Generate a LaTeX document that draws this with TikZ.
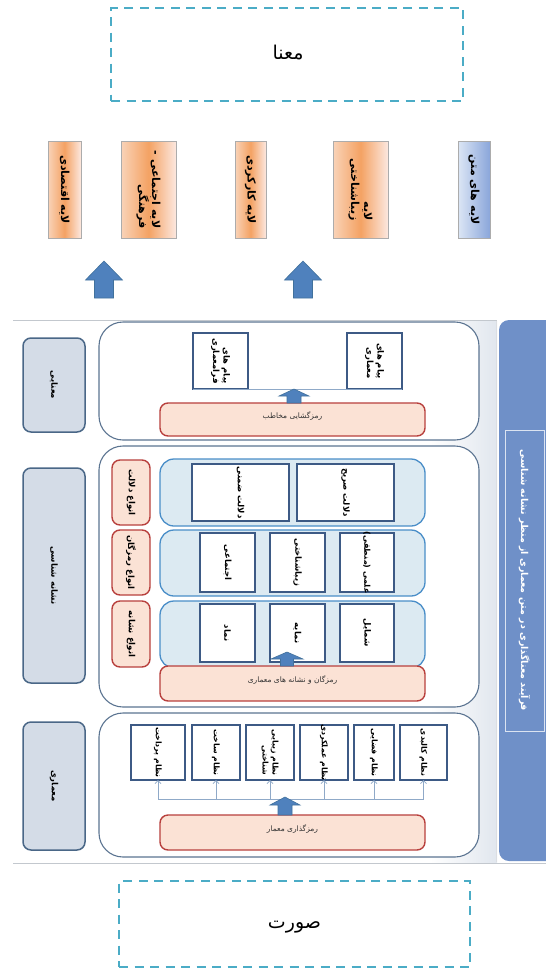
\documentclass[tikz,border=0pt]{standalone}
\usepackage{fontspec}
\newfontfamily\fa[Script=Arabic]{DejaVu Sans}
\TeXXeTstate=1
\usetikzlibrary{arrows.meta,fit}
\newcommand\R[1]{\beginR #1\endR}
\definecolor{dashc}{HTML}{4BACC6}
\definecolor{orL}{HTML}{F9D3B8}
\definecolor{orM}{HTML}{F4A263}
\definecolor{orR}{HTML}{FCE8E0}
\definecolor{buL}{HTML}{DCE6F5}
\definecolor{buR}{HTML}{8AA6DA}
\definecolor{blkf}{HTML}{4F81BD}
\definecolor{blkd}{HTML}{41719C}
\definecolor{secc}{HTML}{5B7491}
\definecolor{labd}{HTML}{4A6787}
\definecolor{labf}{HTML}{D4DCE7}
\definecolor{rowd}{HTML}{4A8EC8}
\definecolor{rowf}{HTML}{DCEAF2}
\definecolor{wbd}{HTML}{3D5A85}
\definecolor{pd}{HTML}{B8403D}
\definecolor{pf}{HTML}{FBE2D5}
\definecolor{thc}{HTML}{8FA9C8}
\definecolor{barf}{HTML}{6F90C8}
\definecolor{panl}{HTML}{C3C8CE}
\newcommand\blkup[6]{\path[blk] (#1-#5,#3) -- (#1-#5,#2+#6) -- (#1-#4,#2+#6) -- (#1,#2) -- (#1+#4,#2+#6) -- (#1+#5,#2+#6) -- (#1+#5,#3) -- cycle;}
\tikzset{
  fitbox/.style={inner sep=0pt, outer sep=0pt},
  dashbox/.style={fitbox, draw=dashc, line width=2.4pt, dash pattern=on 9pt off 6.5pt},
  bigtxt/.style={font=\fa\fontsize{19}{22}\selectfont, inner sep=0pt},
  layer/.style={fitbox, draw=gray!65, line width=0.8pt},
  orangefill/.style={left color=orL, right color=orR, middle color=orM},
  bluefill/.style={left color=buL, right color=buR},
  rottxt/.style={rotate=-90, align=right, inner sep=0pt, text=black},
  blk/.style={fill=blkf, draw=blkd, line width=0.6pt},
  sect/.style={fitbox, draw=secc, line width=1.1pt, rounded corners=24pt, fill=white},
  lab/.style={fitbox, draw=labd, fill=labf, line width=1.5pt, rounded corners=8pt},
  rowbox/.style={fitbox, draw=rowd, fill=rowf, line width=1.3pt, rounded corners=14pt},
  wbox/.style={fitbox, draw=wbd, fill=white, line width=1.2pt},
  peach/.style={fitbox, draw=pd, fill=pf, line width=1.4pt, rounded corners=8pt, font=\fa\fontsize{7.5}{9}\selectfont, text=black!80},
  thinarr/.style={draw=thc, line width=0.8pt, -{Straight Barb[length=3pt,width=6pt]}},
  thinline/.style={draw=thc, line width=0.8pt},
  lt/.style={font=\fa\bfseries\fontsize{11}{13}\selectfont},
  st/.style={font=\fa\bfseries\fontsize{8.5}{10.5}\selectfont},
  nt/.style={font=\fa\bfseries\fontsize{7.8}{10}\selectfont},
  mt/.style={font=\fa\bfseries\fontsize{8.5}{10.5}\selectfont},
}
\begin{document}
\begin{tikzpicture}[x=1pt,y=-1pt]
\useasboundingbox (0,0) rectangle (546,970);
% top and bottom dashed boxes
\node[dashbox, fit={(111,8) (463,101)}] (mana) {};
\node[bigtxt] (manat) at (288,53) {\R{معنا}};
\node[dashbox, fit={(119,881) (470,967)}] (surat) {};
\node[bigtxt] (suratt) at (294.5,927) {\R{صورت}};
% layer boxes
\node[layer, orangefill, fit={(48,141) (81,238)}] (L1) {};
\node[rottxt, lt] (L1t) at (L1) {\R{لایه اقتصادی}};
\node[layer, orangefill, fit={(121,141) (176,238)}] (L2) {};
\node[rottxt, lt] (L2t) at (L2) {\R{لایه اجتماعی -}\\\R{فرهنگی}};
\node[layer, orangefill, fit={(235,141) (266,238)}] (L3) {};
\node[rottxt, lt] (L3t) at (L3) {\R{لایه کارکردی}};
\node[layer, orangefill, fit={(333,141) (388,238)}] (L4) {};
\node[rottxt, lt] (L4t) at (L4) {\R{لایه}\\\R{زیباشناختی}};
\node[layer, bluefill, fit={(458,141) (490,238)}] (L5) {};
\node[rottxt, lt] (L5t) at (L5) {\R{لایه های متن}};
\blkup{104}{261}{298}{18.5}{9.5}{19}
\blkup{303}{261}{298}{18.5}{9.5}{19}
% panel
\fill[left color=white, right color=labf!70] (430,321) rectangle (497,862);
\draw[panl, line width=1pt] (13,320.5) -- (497,320.5);
\draw[panl!60, line width=0.8pt] (496.5,321) -- (496.5,862);
\draw[panl, line width=1pt] (13,863) -- (546,863);
% right bar
\node[fitbox, fill=barf, rounded corners=10pt, fit={(499,320) (560,861)}] (bar) {};
\node[fitbox, draw=white!75!barf, line width=1pt, fit={(505,430) (544,731)}] (barin) {};
\node[rottxt, font=\fa\bfseries\fontsize{9.5}{11}\selectfont, text=white] (bart) at (barin) {\R{فرآیند معناگذاری در متن معماری از منظر نشانه شناسی}};
% sections
\node[sect, fit={(99,322) (479,440)}] (S1) {};
\node[sect, fit={(99,446) (479,707)}] (S2) {};
\node[sect, fit={(99,713) (479,857)}] (S3) {};
% left labels
\node[lab, fit={(23,338) (85,432)}] (M1) {};
\node[rottxt, mt] (M1t) at (M1) {\R{معنایی}};
\node[lab, fit={(23,468) (85,683)}] (M2) {};
\node[rottxt, mt] (M2t) at (M2) {\R{نشانه شناسی}};
\node[lab, fit={(23,722) (85,850)}] (M3) {};
\node[rottxt, mt] (M3t) at (M3) {\R{معماری}};
% section 1
\node[wbox, fit={(193,333) (248,389)}] (pa) {};
\node[rottxt, st] (pat) at (pa) {\R{پیام های}\\\R{فرامعماری}};
\node[wbox, fit={(347,333) (402,389)}] (pb) {};
\node[rottxt, st] (pbt) at (pb) {\R{پیام های}\\\R{معماری}};
\draw[thinline] (pa.south west) -- (pb.south east);
\node[peach, fit={(160,403) (425,436)}] (P1) {\R{رمزگشایی مخاطب}};
\blkup{294}{389}{403}{15}{7}{7}
% section 2
\node[peach, fit={(112,460) (150,525)}] (G1) {};
\node[rottxt, st] (G1t) at (G1) {\R{انواع دلالت}};
\node[peach, fit={(112,530) (150,595)}] (G2) {};
\node[rottxt, st] (G2t) at (G2) {\R{انواع رمزگان}};
\node[peach, fit={(112,601) (150,667)}] (G3) {};
\node[rottxt, st] (G3t) at (G3) {\R{انواع نشانه}};
\node[rowbox, fit={(160,459) (425,526)}] (R1) {};
\node[rowbox, fit={(160,530) (425,596)}] (R2) {};
\node[rowbox, fit={(160,601) (425,668)}] (R3) {};
\node[wbox, fit={(192,464) (289,521)}] (d1) {};
\node[rottxt, st] (d1t) at (d1) {\R{دلالت ضمنی}};
\node[wbox, fit={(297,464) (394,521)}] (d2) {};
\node[rottxt, st] (d2t) at (d2) {\R{دلالت صریح}};
\node[wbox, fit={(200,533) (255,592)}] (r1) {};
\node[rottxt, st] (r1t) at (r1) {\R{اجتماعی}};
\node[wbox, fit={(270,533) (325,592)}] (r2) {};
\node[rottxt, st] (r2t) at (r2) {\R{زیباشناختی}};
\node[wbox, fit={(340,533) (394,592)}] (r3) {};
\node[rottxt, font=\fa\bfseries\fontsize{8}{10}\selectfont] (r3t) at (r3) {\R{علمی (منطقی)}};
\node[wbox, fit={(200,604) (255,662)}] (n1) {};
\node[rottxt, st] (n1t) at (n1) {\R{نماد}};
\node[wbox, fit={(270,604) (325,662)}] (n2) {};
\node[rottxt, st] (n2t) at (n2) {\R{نمایه}};
\node[wbox, fit={(340,604) (394,662)}] (n3) {};
\node[rottxt, st] (n3t) at (n3) {\R{شمایل}};
\node[peach, fit={(160,666) (425,701)}] (P2) {\R{رمزگان و نشانه های معماری}};
\blkup{287}{652}{666}{16}{6.5}{7}
% section 3
\node[wbox, fit={(131,725) (185,780)}] (b1) {};
\node[rottxt, nt] (b1t) at (b1) {\R{نظام پرداخت}};
\node[wbox, fit={(192,725) (240,780)}] (b2) {};
\node[rottxt, nt] (b2t) at (b2) {\R{نظام ساخت}};
\node[wbox, fit={(246,725) (294,780)}] (b3) {};
\node[rottxt, nt] (b3t) at (b3) {\R{نظام زیبایی}\\\R{شناختی}};
\node[wbox, fit={(300,725) (348,780)}] (b4) {};
\node[rottxt, nt] (b4t) at (b4) {\R{نظام عملکردی}};
\node[wbox, fit={(354,725) (394,780)}] (b5) {};
\node[rottxt, nt] (b5t) at (b5) {\R{نظام فضایی}};
\node[wbox, fit={(400,725) (447,780)}] (b6) {};
\node[rottxt, nt] (b6t) at (b6) {\R{نظام کالبدی}};
\coordinate (hl) at (0,799);
\draw[thinline] (b1.south |- hl) -- (b6.south |- hl);
\foreach \b in {b1,b2,b3,b4,b5,b6}{\draw[thinarr] (\b.south |- hl) -- (\b.south);}
\node[peach, fit={(160,815) (425,850)}] (P3) {\R{رمزگذاری معمار}};
\blkup{285}{797}{815}{15}{7}{8}
\end{tikzpicture}
\end{document}
